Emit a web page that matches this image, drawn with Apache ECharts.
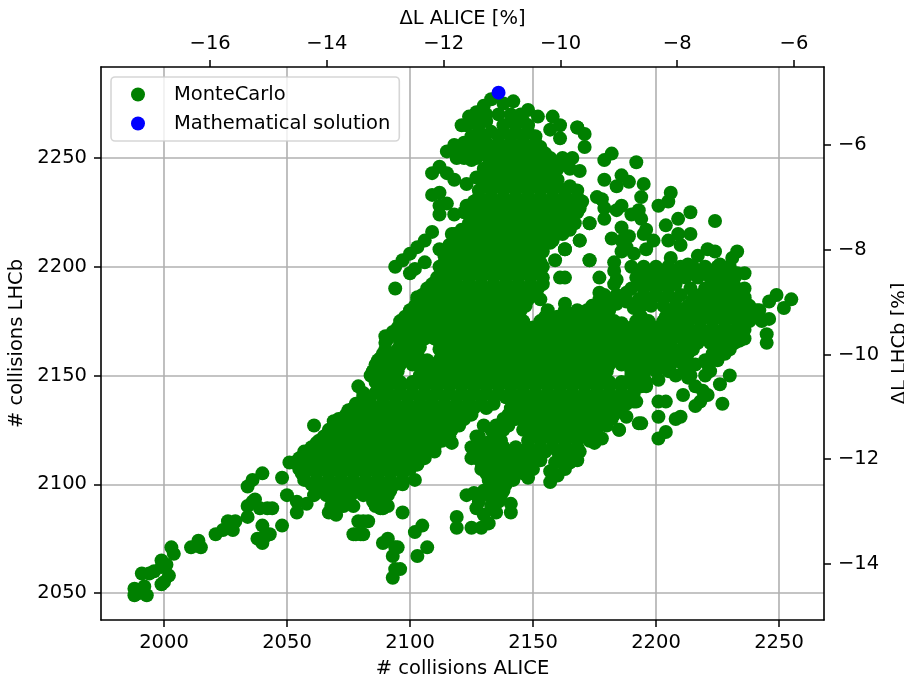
<!DOCTYPE html>
<html>
<head>
<meta charset="utf-8">
<style>html,body{margin:0;padding:0;background:#fff}#c{width:904px;height:677px}</style>
<script src="https://cdn.jsdelivr.net/npm/echarts@6/dist/echarts.min.js"></script>
</head>
<body>
<div id="c"></div>
<script>
const bottomTicks = [2000, 2050, 2100, 2150, 2200, 2250];
const leftTicks = [2050, 2100, 2150, 2200, 2250];
const topTicks = [-16, -14, -12, -10, -8, -6];
const rightTicks = [-14, -12, -10, -8, -6];
const solution = [[2136, 2280]];

const lowerTail = [[1988,2052],[1988,2049],[1993,2049],[1991,2059],[1992,2053],[1990,2050],[1994,2059],[1996,2060],[1999,2065],[1999,2062],[2002,2058],[2000,2055],[1999,2054],[2003,2071],[2004,2068],[2001,2063],[2011,2071],[2014,2074],[2015,2071],[2021,2077],[2024,2079],[2026,2083],[2029,2083],[2028,2079],[2034,2085],[2034,2090],[2037,2093],[2039,2089],[2044,2089],[2042,2089],[2036,2092],[2040,2081],[2038,2075],[2040,2073],[2043,2077],[2041,2076],[2048,2081],[2034,2099],[2036,2102],[2040,2105],[2048,2103],[2051,2110],[2056,2111],[2050,2095],[2054,2087],[2058,2091],[2054,2092],[2056,2105],[2061,2127],[2062,2119],[2061,2116],[2067,2087],[2070,2086],[2078,2077],[2081,2077],[2079,2083],[2083,2083],[2088,2089],[2089,2073],[2091,2075],[2094,2071],[2093,2067],[2093,2057],[2094,2061],[2096,2061],[2075,2134],[2069,2129],[2071,2130],[2081,2083],[2077,2077],[2080,2077],[2085,2092],[2089,2089],[2091,2096],[2097,2087],[2095,2071],[2105,2081],[2102,2078],[2107,2071],[2103,2067]];

const lowerPocket = [[2123,2095],[2126,2096],[2127,2089],[2119,2085],[2119,2080],[2125,2080],[2129,2080],[2132,2082],[2130,2086],[2135,2087],[2141,2091],[2141,2087],[2136,2092],[2138,2097],[2128,2092],[2133,2090],[2157,2101],[2157,2106],[2163,2107],[2168,2111],[2169,2115],[2153,2111],[2148,2103],[2141,2103],[2134,2103],[2145,2115],[2141,2114],[2135,2114],[2130,2119],[2127,2122],[2125,2117],[2125,2112],[2129,2107],[2102,2102],[2097,2100],[2117,2119],[2110,2115],[2106,2112],[2103,2109],[2160,2104]];

const upperEdge = [[2133,2277],[2130,2274],[2142,2276],[2138,2275],[2148,2272],[2152,2269],[2158,2269],[2161,2265],[2157,2263],[2161,2259],[2168,2264],[2171,2261],[2171,2255],[2121,2265],[2124,2269],[2127,2271],[2126,2266],[2118,2256],[2115,2253],[2119,2250],[2125,2249],[2129,2258],[2112,2246],[2109,2243],[2115,2243],[2118,2240],[2109,2233],[2112,2234],[2115,2229],[2112,2228],[2112,2224],[2118,2224],[2123,2238],[2127,2241],[2123,2228],[2109,2216],[2106,2212],[2103,2209],[2100,2206],[2097,2203],[2094,2200],[2106,2202],[2102,2199],[2100,2197],[2112,2208],[2117,2215],[2157,2211],[2163,2208],[2169,2212],[2173,2220],[2173,2203],[2159,2203],[2163,2195],[2094,2190],[2103,2186],[2107,2189],[2100,2178],[2090,2168],[2088,2158],[2085,2152],[2079,2145],[2081,2140],[2085,2135]];

const rightWing = [[2168,2264],[2166,2250],[2179,2249],[2182,2252],[2192,2248],[2169,2244],[2179,2240],[2186,2242],[2189,2239],[2184,2237],[2195,2238],[2194,2232],[2206,2234],[2201,2228],[2205,2230],[2214,2225],[2224,2221],[2176,2232],[2178,2231],[2179,2227],[2186,2228],[2184,2226],[2179,2222],[2173,2220],[2193,2226],[2190,2224],[2194,2222],[2209,2222],[2204,2219],[2196,2217],[2186,2218],[2189,2214],[2182,2213],[2195,2215],[2199,2212],[2205,2212],[2209,2215],[2214,2215],[2210,2210],[2169,2212],[2196,2208],[2186,2207],[2206,2204],[2163,2208],[2173,2203],[2183,2202],[2183,2198],[2177,2195],[2217,2205],[2221,2208],[2224,2207],[2233,2207],[2231,2204],[2213,2201],[2226,2201],[2236,2197],[2161,2195],[2184,2194],[2183,2192],[2177,2188],[2188,2184],[2168,2180],[2163,2183],[2186,2212],[2188,2209],[2191,2206],[2236,2190],[2236,2186],[2249,2187],[2246,2184],[2252,2181],[2255,2185],[2246,2176],[2242,2180],[2243,2175],[2245,2169],[2245,2165],[2234,2166],[2236,2171],[2229,2163],[2225,2158],[2230,2150],[2226,2146],[2216,2145],[2213,2149],[2221,2141],[2219,2143],[2216,2136],[2218,2138],[2227,2137],[2211,2141],[2201,2148],[2204,2138],[2201,2138],[2201,2131],[2210,2131],[2208,2130],[2204,2124],[2201,2121],[2194,2128],[2185,2125],[2188,2131],[2192,2138],[2194,2145],[2182,2132],[2178,2121],[2175,2119],[2168,2114],[2185,2125],[2191,2138],[2193,2128],[2209,2172],[2209,2168],[2214,2190],[2188,2188],[2191,2181],[2184,2183],[2186,2174],[2198,2182],[2104,2163],[2110,2167]];

const rows = [
[2270,[2131,2136,2141,2145]],
[2265,[2123,2128,2138,2143,2148]],
[2260,[2125,2130,2136,2141,2146,2151]],
[2255,[2119,2124,2128,2133,2138,2143,2148,2153]],
[2250,[2122,2127,2132,2137,2142,2147,2152,2157,2162]],
[2245,[2130,2135,2140,2145,2150,2155,2160,2165]],
[2240,[2131,2136,2141,2146,2151,2156,2160]],
[2235,[2128,2133,2138,2143,2148,2153,2158,2163,2168]],
[2230,[2126,2131,2136,2141,2146,2151,2156,2161,2166,2170]],
[2225,[2122,2128,2133,2138,2143,2148,2153,2158,2163,2168]],
[2220,[2124,2129,2134,2139,2144,2149,2154,2159,2164,2167]],
[2215,[2118,2122,2127,2132,2137,2142,2147,2152,2157,2162]],
[2210,[2116,2120,2125,2130,2135,2140,2145,2150,2154]],
[2205,[2114,2118,2123,2128,2133,2138,2143,2148,2152]],
[2200,[2112,2116,2121,2126,2131,2136,2141,2146,2150,2154,2190,2195,2200,2205,2210,2215,2220,2225,2230]],
[2195,[2111,2115,2119,2124,2129,2134,2139,2144,2149,2154,2192,2197,2202,2207,2212,2217,2222,2227,2232]],
[2190,[2107,2112,2117,2122,2127,2132,2137,2142,2147,2152,2190,2195,2200,2205,2220,2228,2233]],
[2185,[2103,2108,2113,2118,2123,2128,2133,2138,2143,2148,2153,2177,2182,2187,2193,2198,2203,2208,2215,2221,2226,2231,2236]],
[2180,[2100,2105,2110,2115,2120,2125,2130,2135,2140,2145,2156,2163,2172,2176,2181,2193,2206,2211,2216,2221,2226,2231,2236,2241]],
[2175,[2096,2101,2106,2111,2116,2121,2126,2131,2136,2141,2146,2153,2158,2163,2168,2173,2178,2183,2192,2197,2203,2208,2213,2218,2223,2228,2233,2238]],
[2170,[2093,2098,2103,2108,2113,2118,2123,2128,2133,2138,2143,2148,2153,2158,2163,2168,2173,2178,2183,2188,2193,2198,2203,2215,2220,2225,2230,2234]],
[2165,[2090,2096,2101,2112,2116,2121,2126,2131,2136,2141,2146,2151,2156,2161,2166,2171,2176,2181,2186,2191,2196,2201,2206,2212,2217,2222,2227,2232]],
[2160,[2089,2093,2098,2103,2113,2118,2123,2128,2133,2138,2143,2148,2153,2158,2163,2168,2173,2178,2183,2188,2193,2198,2203,2208,2213,2223,2228]],
[2155,[2086,2091,2096,2101,2106,2111,2116,2121,2126,2131,2136,2141,2146,2151,2156,2161,2166,2171,2176,2181,2186,2191,2196,2201,2206,2211,2216,2221]],
[2150,[2084,2089,2094,2104,2108,2113,2118,2123,2128,2133,2138,2143,2148,2153,2158,2163,2168,2173,2178,2190,2195,2208,2214,2220]],
[2145,[2087,2091,2096,2101,2106,2111,2116,2121,2126,2131,2136,2141,2146,2151,2156,2161,2166,2171,2176,2181,2186,2191,2196]],
[2140,[2083,2089,2094,2099,2104,2109,2114,2119,2124,2129,2134,2139,2144,2149,2154,2159,2164,2169,2174,2179,2184,2189]],
[2135,[2077,2082,2087,2091,2096,2101,2106,2111,2116,2121,2126,2131,2141,2146,2151,2156,2161,2166,2171,2176,2181,2185]],
[2130,[2072,2078,2083,2088,2093,2098,2103,2108,2113,2118,2122,2138,2143,2148,2153,2158,2163,2168,2173,2178,2182]],
[2125,[2067,2072,2077,2082,2087,2092,2097,2102,2107,2112,2117,2133,2138,2146,2151,2156,2161,2166,2171,2176]],
[2120,[2063,2069,2074,2079,2084,2089,2094,2099,2104,2109,2113,2133,2137,2148,2153,2158,2163,2168,2173]],
[2115,[2057,2062,2067,2072,2077,2082,2087,2092,2097,2102,2107,2131,2136,2146,2150,2155,2160,2165]],
[2110,[2053,2059,2064,2069,2074,2079,2084,2089,2094,2099,2129,2134,2139,2144,2149,2159,2165]],
[2105,[2057,2062,2067,2072,2077,2082,2087,2092,2097,2131,2136,2141,2146]],
[2100,[2060,2065,2070,2075,2080,2085,2090,2094,2134,2139]],
[2095,[2061,2066,2071,2076,2081,2086,2091,2127,2132,2137]],
[2090,[2068,2073,2077,2086,2091]]
];
const midRows = [
[2267,[2126,2131,2141,2146]],
[2262,[2128,2133,2138,2143,2148]],
[2257,[2122,2126,2131,2136,2141,2146,2151]],
[2252,[2120,2125,2130,2135,2140,2145,2150,2155]],
[2247,[2133,2138,2143,2148,2153,2158,2163]],
[2242,[2133,2138,2143,2148,2153,2158]],
[2237,[2130,2135,2140,2145,2150,2155,2160,2165]],
[2232,[2128,2133,2138,2143,2148,2153,2158,2163,2168]],
[2227,[2125,2130,2135,2140,2145,2150,2155,2160,2165,2169]],
[2222,[2126,2131,2136,2141,2146,2151,2156,2161,2166]],
[2217,[2121,2126,2131,2136,2141,2146,2151,2156,2161,2165]],
[2212,[2118,2123,2128,2133,2138,2143,2148,2153,2158]],
[2207,[2116,2121,2126,2131,2136,2141,2146,2150,2154]],
[2202,[2114,2119,2124,2129,2134,2139,2144,2149,2153]],
[2197,[2113,2118,2123,2128,2133,2138,2143,2148,2152,2193,2198,2203,2208,2213,2218,2223,2228,2233]],
[2192,[2109,2114,2119,2124,2129,2134,2139,2144,2149,2154,2193,2198,2203,2208,2224,2230]],
[2187,[2105,2110,2115,2120,2125,2130,2135,2140,2145,2150,2179,2184,2195,2200,2205,2210,2218,2224,2229,2234]],
[2182,[2102,2107,2112,2117,2122,2127,2132,2137,2142,2147,2174,2179,2194,2203,2208,2213,2218,2223,2228,2233,2238]],
[2177,[2098,2103,2108,2113,2118,2123,2128,2133,2138,2143,2155,2160,2165,2170,2175,2180,2194,2204,2209,2214,2219,2224,2229,2234,2239]],
[2172,[2095,2100,2105,2110,2115,2120,2125,2130,2135,2140,2145,2150,2155,2160,2165,2170,2175,2180,2185,2190,2195,2200,2205,2213,2218,2223,2228,2233]],
[2167,[2091,2096,2101,2106,2111,2116,2121,2126,2131,2136,2141,2146,2151,2156,2161,2166,2171,2176,2181,2186,2191,2196,2201,2206,2211,2216,2221,2226,2231,2236]],
[2162,[2090,2095,2100,2112,2115,2120,2125,2130,2135,2140,2145,2150,2155,2160,2165,2170,2175,2180,2185,2190,2195,2200,2205,2210,2215,2225,2230]],
[2157,[2087,2092,2097,2102,2107,2112,2117,2122,2127,2132,2137,2142,2147,2152,2157,2162,2167,2172,2177,2182,2187,2192,2197,2202,2207,2212,2220,2225]],
[2152,[2085,2090,2095,2105,2110,2115,2120,2125,2130,2135,2140,2145,2150,2155,2160,2165,2170,2175,2180,2190,2195,2200,2205,2212,2222]],
[2147,[2086,2091,2096,2101,2106,2111,2116,2121,2126,2131,2136,2141,2146,2151,2156,2161,2166,2171,2176,2181,2186,2191,2196]],
[2142,[2081,2086,2091,2096,2101,2106,2111,2116,2121,2126,2131,2136,2141,2146,2151,2156,2161,2166,2171,2176,2181,2186,2191]],
[2137,[2078,2084,2089,2094,2099,2104,2109,2114,2119,2124,2129,2134,2143,2148,2153,2158,2163,2168,2173,2178,2183,2188]],
[2132,[2074,2080,2085,2090,2095,2100,2105,2110,2115,2120,2125,2140,2145,2150,2155,2160,2165,2170,2175,2180,2183]],
[2127,[2070,2075,2080,2085,2090,2095,2100,2105,2110,2115,2120,2130,2135,2140,2147,2152,2157,2162,2167,2172,2177,2180]],
[2122,[2065,2071,2076,2081,2086,2091,2096,2101,2106,2111,2116,2128,2135,2150,2155,2160,2165,2170,2175]],
[2117,[2060,2065,2070,2075,2080,2085,2090,2095,2100,2105,2110,2128,2133,2138,2143,2148,2153,2158,2163,2168]],
[2112,[2055,2061,2066,2071,2076,2081,2086,2091,2096,2101,2105,2127,2132,2137,2142,2147,2152,2162,2167]],
[2107,[2055,2060,2065,2070,2075,2080,2085,2090,2095,2100,2130,2135,2140,2145,2150]],
[2102,[2057,2062,2067,2072,2077,2082,2087,2092,2097,2132,2137,2142]],
[2097,[2062,2067,2072,2077,2082,2087,2092,2130,2135]],
[2092,[2070,2075,2088]]
];
const coreMass = rows.concat(midRows).flatMap(([y, xs]) => xs.map(x => [x, y]));
const monteCarlo = [].concat(lowerTail, lowerPocket, upperEdge, rightWing, coreMass);

const plain = v => String(v).replace('-', '\u2212');
const font = 'DejaVu Sans';
const fs = 19.5;
const lineBlack = { show: true, onZero: false, lineStyle: { color: '#000', width: 1.6 } };
const tick = vals => ({ show: true, length: 7, lineStyle: { color: '#000', width: 1.5 }, customValues: vals });
const label = (vals, m) => ({ fontFamily: font, fontSize: fs, color: '#000', margin: m, customValues: vals, formatter: plain });
const nameStyle = { fontFamily: font, fontSize: fs, color: '#000' };
const gridLine = { show: true, lineStyle: { color: '#b0b0b0', width: 1.6 } };

const chart = echarts.init(document.getElementById('c'), null, { renderer: 'canvas' });
chart.setOption({
  animation: false,
  backgroundColor: '#fff',
  textStyle: { fontFamily: font },
  grid: { left: 101, right: 80, top: 67, bottom: 57, containLabel: false, outerBoundsMode: 'none' },
  legend: {
    left: 111, top: 77, orient: 'vertical',
    padding: [5, 9, 5, 20], itemGap: 4,
    itemWidth: 14, itemHeight: 14,
    borderColor: 'rgba(204,204,204,0.8)', borderWidth: 1.6, borderRadius: 4,
    backgroundColor: 'rgba(255,255,255,0.8)',
    textStyle: { fontFamily: font, fontSize: fs, color: '#000', padding: [0, 0, 0, 24], lineHeight: 25 },
    data: [
      { name: 'MonteCarlo', icon: 'circle' },
      { name: 'Mathematical solution', icon: 'circle' }
    ]
  },
  xAxis: [
    {
      type: 'value', position: 'bottom', min: 1974.4, max: 2268.3,
      name: '# collisions ALICE', nameLocation: 'middle', nameGap: 39, nameTextStyle: nameStyle,
      axisLine: lineBlack, axisTick: tick(bottomTicks), axisLabel: label(bottomTicks, 13),
      splitLine: gridLine
    },
    {
      type: 'value', position: 'top', min: -17.87, max: -5.486,
      name: '\u0394L ALICE [%]', nameLocation: 'middle', nameGap: 35, nameTextStyle: nameStyle,
      axisLine: lineBlack, axisTick: tick(topTicks), axisLabel: label(topTicks, 13),
      splitLine: { show: false }
    }
  ],
  yAxis: [
    {
      type: 'value', position: 'left', min: 2037.6, max: 2291.8,
      name: '# collisions LHCb', nameLocation: 'middle', nameGap: 71, nameRotate: 90, nameTextStyle: nameStyle,
      axisLine: lineBlack, axisTick: tick(leftTicks), axisLabel: label(leftTicks, 14),
      splitLine: gridLine
    },
    {
      type: 'value', position: 'right', min: -15.07, max: -4.51,
      name: '\u0394L LHCb [%]', nameLocation: 'middle', nameGap: 59, nameRotate: 90, nameTextStyle: nameStyle,
      axisLine: lineBlack, axisTick: tick(rightTicks), axisLabel: label(rightTicks, 14),
      splitLine: { show: false }
    }
  ],
  series: [
    {
      name: 'MonteCarlo', type: 'scatter', xAxisIndex: 0, yAxisIndex: 0,
      data: monteCarlo, symbol: 'circle', symbolSize: 14, progressive: 0,
      itemStyle: { color: '#008000', opacity: 1 }, emphasis: { disabled: true }, z: 3
    },
    {
      name: 'Mathematical solution', type: 'scatter', xAxisIndex: 0, yAxisIndex: 0,
      data: solution, symbol: 'circle', symbolSize: 14,
      itemStyle: { color: '#0000ff', opacity: 1 }, emphasis: { disabled: true }, z: 4
    }
  ]
});
</script>
</body>
</html>
